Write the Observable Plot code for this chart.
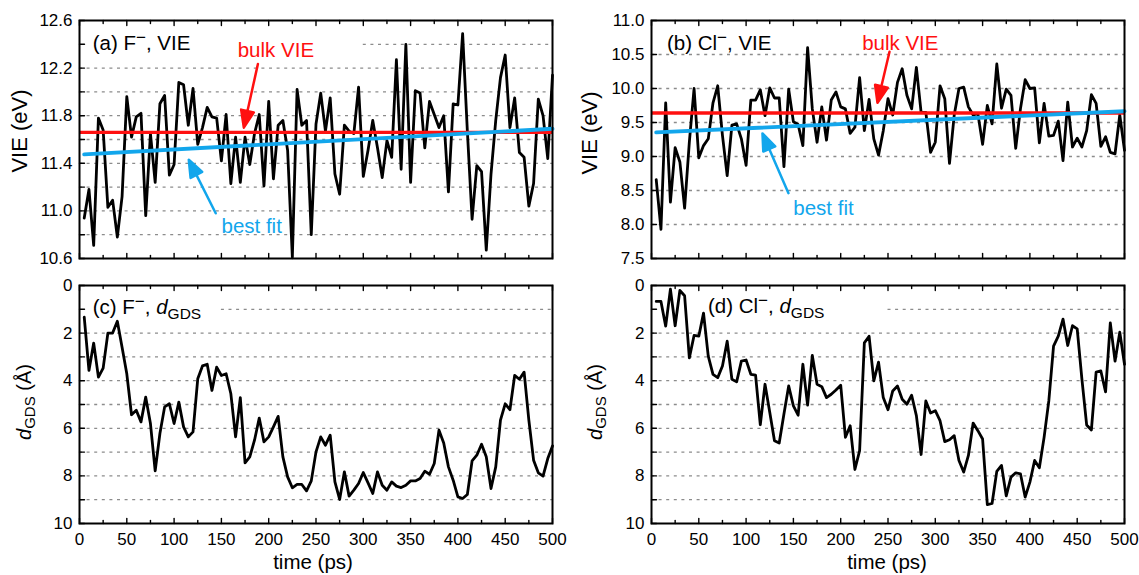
<!DOCTYPE html>
<html>
<head>
<meta charset="utf-8">
<script src="https://cdn.jsdelivr.net/npm/d3@7"></script>
<script src="https://cdn.jsdelivr.net/npm/@observablehq/plot@0.6"></script>
<style>
  body { margin: 0; background: #fff; }
  #fig { position: relative; width: 1139px; height: 575px; overflow: hidden; background: #fff; }
  #fig svg { position: absolute; overflow: visible; }
</style>
</head>
<body>
<div id="fig"></div>
<script>
// ---------------- data ----------------
const time = [5,10,15,20,25,30,35,40,45,50,55,60,65,70,75,80,85,90,95,100,
  105,110,115,120,125,130,135,140,145,150,155,160,165,170,175,180,185,190,195,200,
  205,210,215,220,225,230,235,240,245,250,255,260,265,270,275,280,285,290,295,300,
  305,310,315,320,325,330,335,340,345,350,355,360,365,370,375,380,385,390,395,400,
  405,410,415,420,425,430,435,440,445,450,455,460,465,470,475,480,485,490,495,500];

// (a) F-, VIE (eV)
const vieF = [10.94,11.18,10.71,11.78,11.68,11.03,11.09,10.78,11.12,11.96,
  11.62,11.79,11.82,10.96,11.65,11.24,11.90,11.97,11.30,11.39,
  12.08,12.06,11.72,12.03,11.56,11.70,11.87,11.79,11.78,11.42,
  11.81,11.23,11.62,11.24,11.62,11.39,11.65,11.81,11.21,11.92,
  11.27,11.72,11.76,11.51,10.61,12.02,11.72,11.76,10.80,11.73,
  11.99,11.67,11.95,11.31,11.14,11.72,11.67,11.65,12.04,11.29,
  11.51,11.76,11.53,11.28,11.59,11.45,12.27,11.35,12.40,11.24,
  12.01,11.99,11.53,11.92,11.81,11.70,11.80,11.16,11.90,11.89,
  12.49,11.67,10.93,11.38,11.33,10.67,11.31,11.76,12.12,12.31,
  11.70,11.95,11.49,11.45,11.04,11.23,11.94,11.80,11.44,12.14];

// (b) Cl-, VIE (eV)
const vieCl = [8.66,7.93,9.79,8.33,9.13,8.92,8.24,9.21,10.00,8.98,
  9.16,9.26,9.79,10.04,9.31,8.72,9.46,9.48,9.26,8.87,
  9.83,9.83,9.98,9.60,10.01,9.86,9.86,8.85,9.99,9.51,
  9.47,9.16,10.60,9.70,9.21,9.73,9.24,9.83,9.95,9.73,
  9.70,9.34,9.43,10.16,9.38,9.84,9.26,9.02,9.38,9.85,
  9.61,10.09,10.29,9.90,9.70,10.31,9.65,9.65,9.06,9.21,
  10.04,9.85,8.90,9.61,10.00,10.02,9.73,9.61,9.63,9.18,
  9.75,9.48,10.36,9.71,9.99,9.90,9.12,9.70,10.13,10.00,
  10.01,9.20,9.78,9.30,9.31,9.52,8.94,9.80,9.14,9.27,
  9.14,9.38,9.91,9.78,9.15,9.29,9.06,9.04,9.61,9.09];

// (c) F-, d_GDS (Å)
const dF = [1.33,3.57,2.42,3.85,3.47,2.00,2.00,1.50,2.59,3.71,
  5.43,5.24,5.73,4.69,5.80,7.79,6.22,5.10,4.97,5.80,
  4.90,5.94,6.36,6.15,3.92,3.38,3.31,4.41,3.43,3.78,
  3.71,4.55,6.36,4.71,7.45,7.20,6.50,5.57,6.57,6.36,
  5.94,5.50,7.20,8.04,8.50,8.36,8.36,8.63,8.21,6.99,
  6.36,6.71,6.29,8.25,8.99,7.83,8.85,8.60,8.32,7.86,
  8.29,8.74,7.83,8.39,8.60,8.25,8.43,8.49,8.39,8.21,
  8.21,8.11,7.80,7.93,7.48,6.08,6.62,7.62,8.18,8.88,
  8.95,8.78,7.37,7.13,6.67,7.20,8.53,7.62,5.66,4.97,
  5.22,3.78,3.94,3.64,5.66,7.34,7.87,8.01,7.27,6.74];

// (d) Cl-, d_GDS (Å)
const dCl = [0.67,0.67,1.71,0.15,1.69,0.21,0.43,3.04,2.10,2.13,
  1.16,2.97,3.73,3.87,3.38,2.34,3.94,4.05,3.18,3.13,
  3.73,3.77,5.85,4.15,5.33,6.52,6.62,5.40,4.22,5.06,
  5.45,3.31,5.03,2.94,4.15,4.25,4.71,4.57,4.39,4.19,
  6.38,5.89,7.73,6.94,2.41,2.13,4.01,3.22,4.71,5.22,
  4.43,4.22,4.78,4.99,4.61,5.47,7.10,4.85,5.36,5.26,
  5.68,6.56,6.48,6.31,7.35,7.84,7.14,5.78,6.10,6.45,
  9.21,9.16,7.81,7.56,8.84,8.05,7.87,7.91,8.89,8.26,
  7.35,7.66,6.38,4.85,2.55,2.13,1.41,2.52,1.69,1.82,
  3.94,5.86,6.07,3.64,3.59,4.47,1.57,3.18,1.96,3.31];

const bulkVIE_F = 11.66;
const bulkVIE_Cl = 9.64;
const fitTime = [5, 500];
const fitF = [11.475, 11.69];
const fitCl = [9.355, 9.665];

// ticks
const xTickLabels = [0,50,100,150,200,250,300,350,400,450,500];
const xTicksMinor = [25,75,125,175,225,275,325,375,425,475];
const yTicksA = [10.6,11.0,11.4,11.8,12.2,12.6];
const yMinorA = [10.8,11.2,11.6,12.0,12.4];
const yTicksB = [7.5,8.0,8.5,9.0,9.5,10.0,10.5,11.0];
const yTicksCD = [0,2,4,6,8,10];
const yMinorCD = [1,3,5,7,9];
const gridA = [10.8,11.0,11.2,11.4,11.6,11.8,12.0,12.2];
const gridA_partial = [{v: 12.4, from: 300}];
const gridB = [8.0,8.5,9.0,9.5,10.0,10.5];
const gridCD = [2,3,4,5,6,7,8,9];
const gridC_partial = [{v: 1, from: 150}];
const gridD_partial = [{v: 1, from: 250}];

// annotations (data coordinates)
const RED = "#ff1010";
const BLUE = "#12a6ec";
const textA = [{text: "bulk VIE", x: 207.6, y: 12.35, color: RED}, {text: "best fit", x: 182, y: 10.87, color: BLUE}];
const arrowsA = [{x1: 188.6, y1: 12.235, x2: 173.7, y2: 11.70, color: RED}, {x1: 144, y1: 10.98, x2: 115.5, y2: 11.43, color: BLUE}];
const textB = [{text: "bulk VIE", x: 263, y: 10.665, color: RED}, {text: "best fit", x: 181.8, y: 8.24, color: BLUE}];
const arrowsB = [{x1: 251.6, y1: 10.54, x2: 238.9, y2: 9.79, color: RED}, {x1: 144.8, y1: 8.46, x2: 117.3, y2: 9.34, color: BLUE}];

// ---------------- drawing ----------------
const FONT = '"Liberation Sans", Arial, Helvetica, sans-serif';
const tickShape = {draw(ctx, l) { ctx.moveTo(0, 0); ctx.lineTo(0, -l); }};
function headShape(head, wing) {
  return {draw(ctx, l) {
    const b = -(l - head);
    ctx.moveTo(0, 0); ctx.lineTo(0, b);
    ctx.moveTo(-wing, b); ctx.lineTo(0, -l); ctx.lineTo(wing, b); ctx.closePath();
  }};
}

function addRich(svg, {x, y, rotate = 0, size, anchor = "start", parts}) {
  const t = d3.select(svg).append("text")
    .attr("transform", `translate(${x},${y}) rotate(${rotate})`)
    .attr("font-family", FONT).attr("font-size", size)
    .attr("fill", "black").attr("text-anchor", anchor);
  let shift = 0;
  for (const p of parts) {
    const ts = t.append("tspan").text(p.text);
    const target = p.shift || 0;
    if (target !== shift) { ts.attr("dy", target - shift); shift = target; }
    if (p.size) ts.attr("font-size", p.size);
    if (p.italic) ts.attr("font-style", "italic");
  }
}

function panel(cfg) {
  const {width, height, ml, mr, mt, mb, domain, reverse} = cfg;
  const iw = width - ml - mr, ih = height - mt - mb;
  const sx = x => ml + x / 500 * iw;
  const sy = y => reverse ? mt + (y - domain[0]) / (domain[1] - domain[0]) * ih
                          : mt + (domain[1] - y) / (domain[1] - domain[0]) * ih;
  const rows = time.map((t, i) => ({t, v: cfg.values[i]}));
  const gridStyle = {stroke: "#8c8c8c", strokeWidth: 1.3, strokeDasharray: "3,4.6"};
  const marks = [];
  marks.push(Plot.ruleY(cfg.grid, gridStyle));
  if (cfg.gridPartial) marks.push(Plot.ruleY(cfg.gridPartial, {y: d => d.v, x1: d => d.from, x2: 500, ...gridStyle}));
  marks.push(Plot.line(rows, {x: "t", y: "v", stroke: "black", strokeWidth: 2.8, strokeLinejoin: "round"}));
  if (cfg.bulk != null) marks.push(Plot.ruleY([cfg.bulk], {stroke: RED, strokeWidth: 3.4}));
  if (cfg.fit) {
    const fitRows = fitTime.map((t, i) => ({t, v: cfg.fit[i]}));
    marks.push(Plot.line(fitRows, {x: "t", y: "v", stroke: BLUE, strokeWidth: 3.9}));
  }
  for (const a of (cfg.arrows || [])) {
    const dx = sx(a.x2) - sx(a.x1), dy = sy(a.y2) - sy(a.y1);
    marks.push(Plot.vector([a], {
      x: "x1", y: "y1", anchor: "start",
      length: Math.hypot(dx, dy), rotate: Math.atan2(dx, -dy) * 180 / Math.PI,
      shape: headShape(17, 6.5), stroke: a.color, fill: a.color, strokeWidth: 2.5
    }));
  }
  if (cfg.texts) marks.push(Plot.text(cfg.texts, {x: "x", y: "y", text: "text", fill: d => d.color, fontSize: 20.5, textAnchor: "middle", lineAnchor: "middle", fontFamily: FONT}));
  // inward ticks
  const tk = {shape: tickShape, anchor: "start", stroke: "black", strokeWidth: 1.4};
  marks.push(Plot.vector(xTickLabels, {x: d => d, frameAnchor: "bottom", length: 5, rotate: 0, ...tk}));
  marks.push(Plot.vector(xTicksMinor, {x: d => d, frameAnchor: "bottom", length: 3, rotate: 0, ...tk}));
  marks.push(Plot.vector(xTickLabels, {x: d => d, frameAnchor: "top", length: 5, rotate: 180, ...tk}));
  marks.push(Plot.vector(xTicksMinor, {x: d => d, frameAnchor: "top", length: 3, rotate: 180, ...tk}));
  marks.push(Plot.vector(cfg.yLabels.concat(cfg.yMinor || []), {y: d => d, frameAnchor: "left", length: 5, rotate: 90, ...tk}));
  marks.push(Plot.frame({stroke: "black", strokeWidth: 2}));
  marks.push(Plot.axisY({ticks: cfg.yLabels, tickSize: 0, tickPadding: 7, tickFormat: cfg.yFormat, fontSize: 17, label: null}));
  if (cfg.xAxis) marks.push(Plot.axisX({ticks: xTickLabels, tickSize: 0, tickPadding: 9, tickFormat: d => String(d), fontSize: 17, label: null}));

  const svg = Plot.plot({
    width, height, marginLeft: ml, marginRight: mr, marginTop: mt, marginBottom: mb,
    x: {domain: [0, 500], ...(cfg.xAxis ? {} : {axis: null})},
    y: {domain, reverse},
    style: {background: "white", fontFamily: FONT, color: "black", overflow: "visible"},
    marks
  });
  svg.style.left = cfg.left + "px";
  svg.style.top = cfg.top + "px";
  document.getElementById("fig").appendChild(svg);
  for (const r of (cfg.rich || [])) addRich(svg, r);
  return svg;
}

const f1 = d3.format(".1f");
const minusSup = {text: "\u2212", size: 17, shift: -7};
const dTitle = {y: 134, rotate: -90, size: 20, anchor: "middle",
  parts: [{text: "d", italic: true}, {text: "GDS", size: 15, shift: 4}, {text: " (\u00C5)", shift: 0}]};

panel({left: 0, top: 0, width: 570, height: 268, ml: 79, mr: 18, mt: 20, mb: 10,
  domain: [10.6, 12.6], reverse: false, values: vieF, grid: gridA, gridPartial: gridA_partial,
  bulk: bulkVIE_F, fit: fitF, arrows: arrowsA, texts: textA,
  yLabels: yTicksA, yMinor: yMinorA, yFormat: f1, xAxis: false,
  rich: [
    {x: 92.7, y: 50, size: 20.5, parts: [{text: "(a) F"}, minusSup, {text: ", VIE", shift: 0}]},
    {x: 27, y: 131, rotate: -90, size: 22, anchor: "middle", parts: [{text: "VIE (eV)"}]}
  ]});

panel({left: 570, top: 0, width: 569, height: 268, ml: 81, mr: 15, mt: 20, mb: 10,
  domain: [7.5, 11.0], reverse: false, values: vieCl, grid: gridB,
  bulk: bulkVIE_Cl, fit: fitCl, arrows: arrowsB, texts: textB,
  yLabels: yTicksB, yFormat: f1, xAxis: false,
  rich: [
    {x: 97, y: 50, size: 20.5, parts: [{text: "(b) Cl"}, minusSup, {text: ", VIE", shift: 0}]},
    {x: 27, y: 133, rotate: -90, size: 22, anchor: "middle", parts: [{text: "VIE (eV)"}]}
  ]});

panel({left: 0, top: 268, width: 570, height: 307, ml: 79, mr: 18, mt: 17, mb: 52,
  domain: [0, 10], reverse: true, values: dF, grid: gridCD, gridPartial: gridC_partial,
  yLabels: yTicksCD, yMinor: yMinorCD, yFormat: d => String(d), xAxis: true,
  rich: [
    {x: 92.7, y: 46, size: 20.5, parts: [{text: "(c) F"}, minusSup, {text: ", ", shift: 0}, {text: "d", italic: true}, {text: "GDS", size: 15.5, shift: 5}]},
    {x: 31, ...dTitle},
    {x: 313, y: 301, size: 20.5, anchor: "middle", parts: [{text: "time (ps)"}]}
  ]});

panel({left: 570, top: 268, width: 569, height: 307, ml: 81, mr: 15, mt: 17, mb: 52,
  domain: [0, 10], reverse: true, values: dCl, grid: gridCD, gridPartial: gridD_partial,
  yLabels: yTicksCD, yMinor: yMinorCD, yFormat: d => String(d), xAxis: true,
  rich: [
    {x: 138, y: 45, size: 20.5, parts: [{text: "(d) Cl"}, minusSup, {text: ", ", shift: 0}, {text: "d", italic: true}, {text: "GDS", size: 15.5, shift: 5}]},
    {x: 32, ...dTitle},
    {x: 317, y: 301, size: 20.5, anchor: "middle", parts: [{text: "time (ps)"}]}
  ]});
</script>
</body>
</html>
